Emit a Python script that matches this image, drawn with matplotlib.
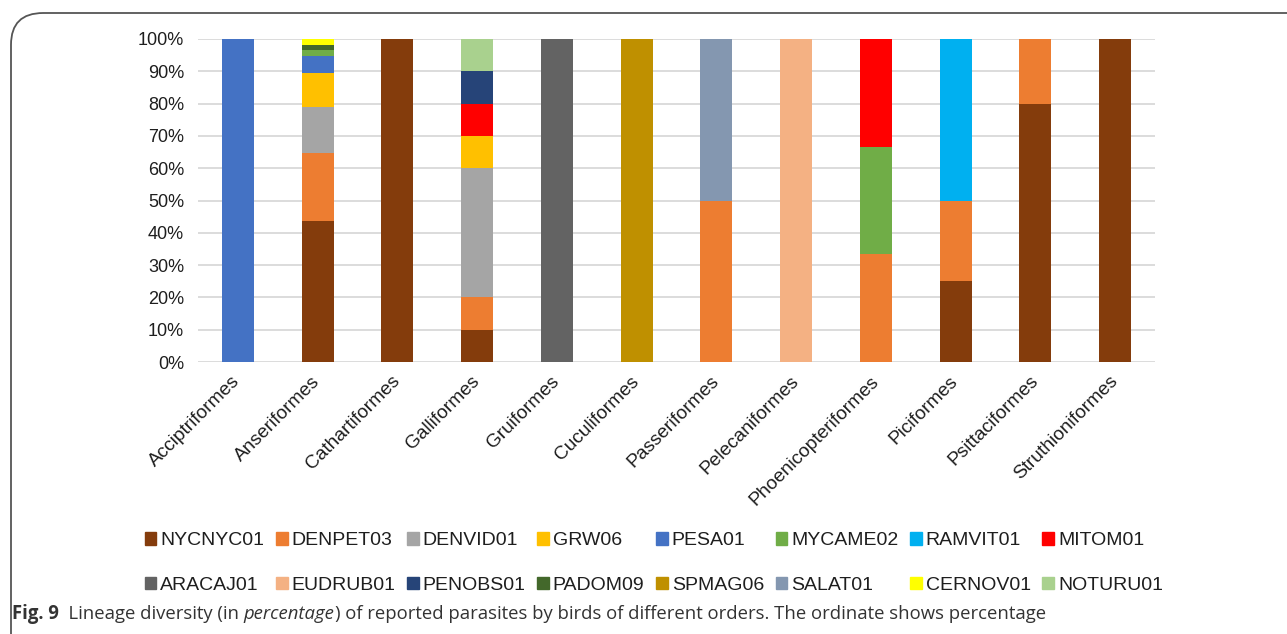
import matplotlib.pyplot as plt
import numpy as np
from matplotlib.patches import FancyBboxPatch, Patch

plt.rcParams['font.family'] = ['Liberation Sans', 'DejaVu Sans']

orders = ['Acciptriformes', 'Anseriformes', 'Cathartiformes', 'Galliformes',
          'Gruiformes', 'Cuculiformes', 'Passeriformes', 'Pelecaniformes',
          'Phoenicopteriformes', 'Piciformes', 'Psittaciformes', 'Struthioniformes']

lineages = ['NYCNYC01', 'DENPET03', 'DENVID01', 'GRW06', 'PESA01', 'MYCAME02',
            'RAMVIT01', 'MITOM01', 'ARACAJ01', 'EUDRUB01', 'PENOBS01', 'PADOM09',
            'SPMAG06', 'SALAT01', 'CERNOV01', 'NOTURU01']

colors = ['#843C0C', '#ED7D31', '#A5A5A5', '#FFC000', '#4472C4', '#70AD47',
          '#00B0F0', '#FF0000', '#636363', '#F4B183', '#264478', '#43682B',
          '#BF9000', '#8497B0', '#FFFF00', '#A9D18E']

# percentage of each lineage per order (same order as `orders`)
NYCNYC01 = [0, 43.7, 100, 10, 0, 0, 0, 0, 0, 25, 80, 100]
DENPET03 = [0, 21.1, 0, 10, 0, 0, 50, 0, 33.3, 25, 20, 0]
DENVID01 = [0, 14.2, 0, 40, 0, 0, 0, 0, 0, 0, 0, 0]
GRW06    = [0, 10.4, 0, 10, 0, 0, 0, 0, 0, 0, 0, 0]
PESA01   = [100, 5.3, 0, 0, 0, 0, 0, 0, 0, 0, 0, 0]
MYCAME02 = [0, 1.9, 0, 0, 0, 0, 0, 0, 33.3, 0, 0, 0]
RAMVIT01 = [0, 0, 0, 0, 0, 0, 0, 0, 0, 50, 0, 0]
MITOM01  = [0, 0, 0, 10, 0, 0, 0, 0, 33.4, 0, 0, 0]
ARACAJ01 = [0, 0, 0, 0, 100, 0, 0, 0, 0, 0, 0, 0]
EUDRUB01 = [0, 0, 0, 0, 0, 0, 0, 100, 0, 0, 0, 0]
PENOBS01 = [0, 0, 0, 10, 0, 0, 0, 0, 0, 0, 0, 0]
PADOM09  = [0, 1.5, 0, 0, 0, 0, 0, 0, 0, 0, 0, 0]
SPMAG06  = [0, 0, 0, 0, 0, 100, 0, 0, 0, 0, 0, 0]
SALAT01  = [0, 0, 0, 0, 0, 0, 50, 0, 0, 0, 0, 0]
CERNOV01 = [0, 1.9, 0, 0, 0, 0, 0, 0, 0, 0, 0, 0]
NOTURU01 = [0, 0, 0, 10, 0, 0, 0, 0, 0, 0, 0, 0]

values = [NYCNYC01, DENPET03, DENVID01, GRW06, PESA01, MYCAME02, RAMVIT01, MITOM01,
          ARACAJ01, EUDRUB01, PENOBS01, PADOM09, SPMAG06, SALAT01, CERNOV01, NOTURU01]

txt = '#1e1e1e'

fig = plt.figure(figsize=(12.87, 6.34), dpi=100)
ax = fig.add_axes([0.1538, 0.429, 0.7436, 0.5095])

x = np.arange(len(orders))
bottom = np.zeros(len(orders))
for name, vals, c in zip(lineages, values, colors):
    vals = np.array(vals, dtype=float)
    ax.bar(x, vals, 0.4, bottom=bottom, color=c, label=name, zorder=3)
    bottom += vals

ax.set_xlim(-0.5, len(orders) - 0.5)
ax.set_ylim(0, 100)
ax.set_yticks(np.arange(0, 101, 10))
ax.set_yticklabels([f'{v}%' for v in range(0, 101, 10)], fontsize=13, color=txt)
ax.set_xticks(x)
ax.set_xticklabels(orders, rotation=45, ha='right', va='center',
                   rotation_mode='anchor', fontsize=13.8, color=txt)
ax.tick_params(length=0)
ax.tick_params(axis='y', pad=10)
ax.tick_params(axis='x', pad=12)
ax.grid(axis='y', color='#D9D9D9', linewidth=1.3, zorder=0)
for s in ax.spines.values():
    s.set_visible(False)

# legend filled row by row (matplotlib fills column by column)
ncol = 8
order = [r * ncol + c for c in range(ncol) for r in range(2)]
handles = [Patch(color=colors[i]) for i in order]
labels = [lineages[i] for i in order]
fig.legend(handles, labels, ncol=ncol, loc='center', bbox_to_anchor=(0.508, 0.112),
           frameon=False, fontsize=14, handlelength=0.6, handleheight=0.6,
           handletextpad=0.2, columnspacing=0.6, labelspacing=1.4,
           labelcolor=txt)

# outer rounded frame
frame = FancyBboxPatch((11 / 1287, -0.05), 1.1, 0.05 + (634 - 13) / 634,
                       boxstyle='round,pad=0,rounding_size=0.025',
                       transform=fig.transFigure, fill=False,
                       edgecolor='#555555', linewidth=1.3, mutation_aspect=2.0)
fig.patches.append(frame)

# caption with bold and italic pieces, scaled to span the reference width
pieces = [('Fig. 9', 'bold', 'normal'),
          ('  Lineage diversity (in ', 'normal', 'normal'),
          ('percentage', 'normal', 'italic'),
          (') of reported parasites by birds of different orders. The ordinate shows percentage', 'normal', 'normal')]
cap_y = 1 - 614 / 634
fig.canvas.draw()
r = fig.canvas.get_renderer()
size = 12.0
for attempt in range(2):
    xpos = 12 / 1287
    texts = []
    for s, w, st in pieces:
        t = fig.text(xpos, cap_y, s, fontsize=size, fontweight=w, fontstyle=st,
                     family=['Open Sans', 'DejaVu Sans'], color='#333333', va='center')
        texts.append(t)
        xpos += t.get_window_extent(renderer=r).width / fig.bbox.width
    if attempt == 0:
        total = (xpos - 12 / 1287) * fig.bbox.width
        size = size * 1031 / total
        for t in texts:
            t.remove()

fig.savefig('out.png', dpi=100)
